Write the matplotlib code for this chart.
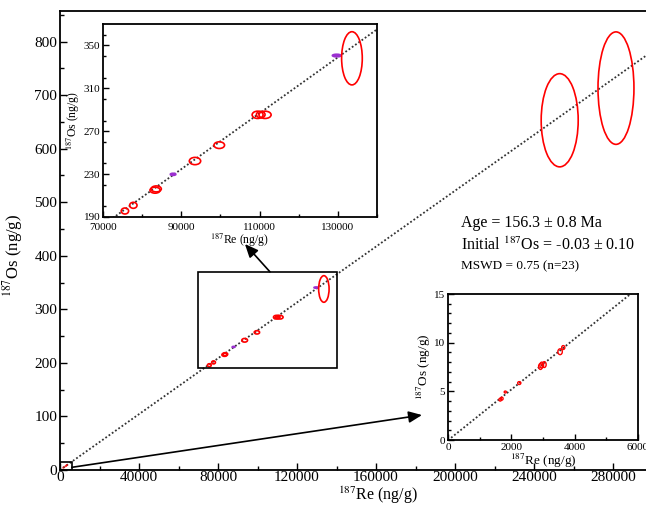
import matplotlib
matplotlib.use("Agg")
import matplotlib.pyplot as plt
from matplotlib.patches import Ellipse, Rectangle
from matplotlib.ticker import MultipleLocator

plt.rcParams["font.family"] = ["Liberation Serif", "DejaVu Serif"]
plt.rcParams["mathtext.fontset"] = "stix"

# 187Re / 187Os sample data (ng/g) with half-widths of the 2-sigma ellipses
re = [1650, 1700, 1810, 2250, 2920, 2960, 3040, 3540, 3640,
      75600, 77750, 83300, 83600, 87900, 93500, 99700,
      109500, 110300, 111400, 129700, 133600,
      253000, 281500]
os_ = [4.15, 4.25, 4.93, 5.85, 7.55, 7.70, 7.75, 9.07, 9.50,
       195.6, 200.9, 215.0, 216.2, 229.8, 242.2, 257.0,
       285.3, 285.5, 285.3, 340.6, 338.0,
       653.0, 713.0]
re_err = [40, 40, 35, 50, 60, 60, 60, 70, 50,
          940, 940, 1300, 1300, 700, 1450, 1350,
          1400, 1100, 1550, 1100, 2640,
          9370, 9100]
os_err = [0.15, 0.15, 0.10, 0.15, 0.30, 0.30, 0.30, 0.30, 0.20,
          2.8, 2.8, 2.8, 2.8, 1.0, 3.4, 3.1,
          3.4, 3.0, 3.4, 1.2, 24.8,
          87.0, 105.0]
excluded = [13, 19]  # samples plotted in purple

# isochron: age 156.3 Ma, initial 187Os -0.03
lam = 1.666e-11
age = 156.3e6
slope = 2.718281828 ** (lam * age) - 1
intercept = -0.03

W, H = 646, 507
fig = plt.figure(figsize=(W / 100, H / 100), dpi=100)


def px_box(x0, y0, x1, y1):
    return [x0 / W, 1 - y1 / H, (x1 - x0) / W, (y1 - y0) / H]


def draw_points(ax, lw):
    for i in range(len(re)):
        col = "#9b30d0" if i in excluded else "red"
        fc = col if i in excluded else "none"
        ax.add_patch(Ellipse((re[i], os_[i]), 2 * re_err[i], 2 * os_err[i],
                             edgecolor=col, facecolor=fc, lw=lw, zorder=3))


def draw_line(ax, x0, x1):
    ax.plot([x0, x1], [slope * x0 + intercept, slope * x1 + intercept],
            color="#333333", lw=1.3, linestyle=(0, (1, 1.2)), zorder=2)


def style(ax, fs, major, minor):
    ax.tick_params(which="both", direction="in", top=False, right=False,
                   labelsize=fs, pad=2)
    ax.tick_params(which="major", length=major, width=1)
    ax.tick_params(which="minor", length=minor, width=1)
    for s in ax.spines.values():
        s.set_linewidth(1.3)


# main axes
ax = fig.add_axes(px_box(60, 11, 646, 470))
ax.set_xlim(0, 296700)
ax.set_ylim(0, 857)
ax.xaxis.set_major_locator(MultipleLocator(40000))
ax.xaxis.set_minor_locator(MultipleLocator(20000))
ax.yaxis.set_major_locator(MultipleLocator(100))
ax.yaxis.set_minor_locator(MultipleLocator(50))
style(ax, 11, 5, 3)
ax.tick_params(axis="x", pad=1)
ax.spines["right"].set_visible(False)
draw_line(ax, 0, 296700)
draw_points(ax, 1.2)
ax.add_patch(Rectangle((70000, 190), 70000, 180, fill=False, ec="black", lw=1.2, zorder=4))
ax.add_patch(Rectangle((0, 0), 6000, 15, fill=False, ec="black", lw=1.2, zorder=4))
fig.text(378 / W, 0.5 / H, r"$^{187}$Re (ng/g)", fontsize=11.5, ha="center", va="bottom")
fig.text(13 / W, 1 - 255 / H, r"$^{187}$Os (ng/g)", fontsize=12, ha="center", va="center",
         rotation=90)

# statistics
fig.text(461 / W, 1 - 223 / H, "Age = 156.3 ± 0.8 Ma", fontsize=11.5, va="center")
fig.text(461 / W, 1 - 245 / H, r"Initial $^{187}$Os = -0.03 ± 0.10", fontsize=11.5, va="center")
fig.text(461 / W, 1 - 266 / H, "MSWD = 0.75 (n=23)", fontsize=9.5, va="center")

# zoomed inset of the high-grade samples
ax1 = fig.add_axes(px_box(103, 24, 377, 217))
ax1.set_xlim(70000, 140000)
ax1.set_ylim(190, 370)
ax1.set_xticks([70000, 90000, 110000, 130000])
ax1.set_yticks([190, 230, 270, 310, 350])
ax1.xaxis.set_minor_locator(MultipleLocator(10000))
ax1.yaxis.set_minor_locator(MultipleLocator(20))
style(ax1, 8, 4, 2.5)
ax1.tick_params(axis="x", pad=4)
draw_line(ax1, 70000, 140000)
draw_points(ax1, 1.2)
ax1.set_xlabel(r"$^{187}$Re (ng/g)", fontsize=8.5, labelpad=0)
ax1.set_ylabel(r"$^{187}$Os (ng/g)", fontsize=8.5, labelpad=1)

# zoomed inset of the low-grade samples
ax2 = fig.add_axes(px_box(448, 294, 638, 440))
ax2.set_xlim(0, 6000)
ax2.set_ylim(0, 15)
ax2.xaxis.set_major_locator(MultipleLocator(2000))
ax2.xaxis.set_minor_locator(MultipleLocator(1000))
ax2.yaxis.set_major_locator(MultipleLocator(5))
ax2.yaxis.set_minor_locator(MultipleLocator(1))
style(ax2, 8, 4, 2.5)
draw_line(ax2, 0, 6000)
draw_points(ax2, 1.0)
ax2.set_xlabel(r"$^{187}$Re (ng/g)", fontsize=9.5, labelpad=0)
ax2.set_ylabel(r"$^{187}$Os (ng/g)", fontsize=9.5, labelpad=1)

# arrows from the boxed regions to the insets
arrow = dict(arrowstyle="-|>,head_length=0.8,head_width=0.35", color="black", lw=1.2,
             shrinkA=0, shrinkB=0)
ax.annotate("", xy=(0.518, -0.14), xycoords=ax1.transAxes,
            xytext=(106300, 370), textcoords="data", arrowprops=arrow, zorder=5)
ax.annotate("", xy=(-0.137, 0.171), xycoords=ax2.transAxes,
            xytext=(6000, 5), textcoords="data", arrowprops=arrow, zorder=5)

fig.savefig("out.png", dpi=100)
